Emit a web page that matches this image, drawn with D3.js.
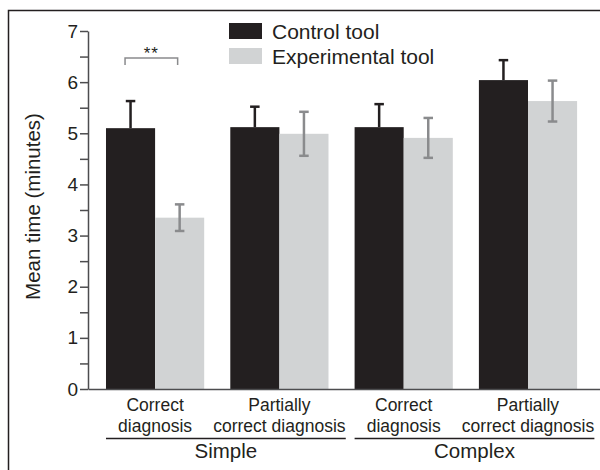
<!DOCTYPE html>
<html>
<head>
<meta charset="utf-8">
<script src="https://cdn.jsdelivr.net/npm/d3@7"></script>
<style>
  body { margin: 0; background: #fff; }
  svg { display: block; font-family: "Liberation Sans", Arial, sans-serif; }
  .axis path, .axis line { stroke: #4d4d4f; stroke-width: 1.5px; }
  .axis text { fill: #231f20; }
</style>
</head>
<body>
<div id="chart"></div>
<script>
// categories (two text lines each) and the outer grouping
var categoryLines = [["Correct", "diagnosis"], ["Partially", "correct diagnosis"],
                     ["Correct", "diagnosis"], ["Partially", "correct diagnosis"]];
var categoryGroup = ["Simple", "Simple", "Complex", "Complex"];
var groups = ["Simple", "Complex"];

// series
var series = ["Control tool", "Experimental tool"];
var controlMean = [5.10, 5.12, 5.12, 6.04];
var controlErr = [0.53, 0.40, 0.45, 0.39];
var experimentalMean = [3.35, 4.99, 4.91, 5.63];
var experimentalErr = [0.26, 0.43, 0.39, 0.40];

var yTicks = [0, 1, 2, 3, 4, 5, 6, 7];
var yMinorTicks = [0.5, 1.5, 2.5, 3.5, 4.5, 5.5, 6.5];
var yTitle = "Mean time (minutes)";

var colors = {"Control tool": "#231f20", "Experimental tool": "#d1d3d4"};
var errColors = {"Control tool": "#231f20", "Experimental tool": "#8a8b8d"};

var width = 600, height = 470;
var svg = d3.select("#chart").append("svg")
    .attr("width", width)
    .attr("height", height);

// outer frame (right/bottom run off the picture)
svg.append("rect")
    .attr("x", 8.5).attr("y", 10.5)
    .attr("width", width).attr("height", height)
    .style("fill", "none")
    .style("stroke", "#231f20")
    .style("stroke-width", "1.5px");

var x0 = d3.scaleBand()
    .domain(d3.range(categoryLines.length))
    .range([88, 600])
    .paddingInner(0.21)
    .paddingOuter(0.1645)
    .align(0.44);

var x1 = d3.scaleBand()
    .domain(series)
    .range([0, x0.bandwidth()]);

var y = d3.scaleLinear()
    .domain([0, 7])
    .range([389, 31]);

// bars
var rows = d3.range(categoryLines.length).map(function(i) {
  return [
    {cat: i, s: series[0], v: controlMean[i], e: controlErr[i]},
    {cat: i, s: series[1], v: experimentalMean[i], e: experimentalErr[i]}
  ];
});

var groupSel = svg.selectAll("g.cat")
    .data(rows)
  .enter().append("g")
    .attr("class", "cat")
    .attr("transform", function(d, i) { return "translate(" + x0(i) + ",0)"; });

groupSel.selectAll("rect")
    .data(function(d) { return d; })
  .enter().append("rect")
    .attr("x", function(d) { return x1(d.s); })
    .attr("width", x1.bandwidth())
    .attr("y", function(d) { return y(d.v); })
    .attr("height", function(d) { return y(0) - y(d.v); })
    .style("fill", function(d) { return colors[d.s]; });

// error bars: control only upward, experimental both ways
var capW = 9.5;
groupSel.selectAll("g.err")
    .data(function(d) { return d; })
  .enter().append("g")
    .attr("class", "err")
    .each(function(d) {
      var g = d3.select(this);
      var cx = x1(d.s) + x1.bandwidth() / 2;
      var lo = d.s == series[0] ? d.v : d.v - d.e;
      var hi = d.v + d.e;
      g.append("line")
        .attr("x1", cx).attr("x2", cx)
        .attr("y1", y(lo)).attr("y2", y(hi));
      g.append("line")
        .attr("x1", cx - capW / 2).attr("x2", cx + capW / 2)
        .attr("y1", y(hi)).attr("y2", y(hi));
      if (d.s != series[0]) {
        g.append("line")
          .attr("x1", cx - capW / 2).attr("x2", cx + capW / 2)
          .attr("y1", y(lo)).attr("y2", y(lo));
      }
      g.selectAll("line")
        .style("stroke", errColors[d.s])
        .style("stroke-width", "2.5px");
    });

// y axis
svg.append("g")
    .attr("class", "axis")
    .attr("transform", "translate(88,0)")
    .call(d3.axisLeft(y).tickValues(yTicks).tickFormat(d3.format("d"))
      .tickSize(8).tickSizeOuter(0).tickPadding(2))
    .selectAll("text")
    .style("font-size", "19px")
    .style("font-family", "Liberation Sans, Arial, sans-serif");

svg.append("g")
    .attr("class", "axis")
    .attr("transform", "translate(88,0)")
    .call(d3.axisLeft(y).tickValues(yMinorTicks).tickSize(8).tickFormat(""))
    .select(".domain").remove();

svg.append("text")
    .attr("transform", "translate(40," + 206.5 + ") rotate(-90)")
    .style("text-anchor", "middle")
    .style("font-size", "20.5px")
    .style("fill", "#231f20")
    .text(yTitle);

// x axis
var xG = svg.append("g")
    .attr("class", "axis")
    .attr("transform", "translate(0," + y(0) + ")")
    .call(d3.axisBottom(x0).tickSize(0).tickSizeOuter(0).tickFormat(""));

var labels = svg.selectAll("text.xlab")
    .data(categoryLines)
  .enter().append("text")
    .attr("class", "xlab")
    .attr("x", function(d, i) { return x0(i) + x0.bandwidth() / 2; })
    .attr("y", y(0) + 22)
    .style("text-anchor", "middle")
    .style("font-size", "17.5px")
    .style("fill", "#231f20");

labels.selectAll("tspan")
    .data(function(d) { return d; })
  .enter().append("tspan")
    .attr("x", function() { return d3.select(this.parentNode).attr("x"); })
    .attr("dy", function(d, i) { return i == 0 ? 0 : 20.7; })
    .text(function(d) { return d; });

// group brackets below the category labels
groups.forEach(function(grp) {
  var left = Infinity, right = -Infinity;
  labels.each(function(d, i) {
    if (categoryGroup[i] != grp) return;
    var bb = this.getBBox();
    left = Math.min(left, bb.x, x0(i));
    right = Math.max(right, bb.x + bb.width, x0(i) + x0.bandwidth());
  });
  svg.append("line")
    .attr("x1", left).attr("x2", right)
    .attr("y1", y(0) + 49.5).attr("y2", y(0) + 49.5)
    .style("stroke", "#231f20")
    .style("stroke-width", "1.5px");
  svg.append("text")
    .attr("x", (left + right) / 2)
    .attr("y", y(0) + 68.5)
    .style("text-anchor", "middle")
    .style("font-size", "20.5px")
    .style("fill", "#231f20")
    .text(grp);
});

// significance bracket for the first pair
var sigL = x0(0) + x1(series[0]) + x1.bandwidth() / 2 - 5.5;
var sigR = x0(0) + x1(series[1]) + x1.bandwidth() / 2 - 2;
var sigY = y(6.47);
svg.append("path")
    .attr("d", "M" + sigL + "," + (sigY + 7) + "V" + sigY + "H" + sigR + "V" + (sigY + 7))
    .style("fill", "none")
    .style("stroke", "#8a8b8d")
    .style("stroke-width", "1.5px");
svg.append("text")
    .attr("x", (sigL + sigR) / 2)
    .attr("y", sigY + 0.5)
    .style("text-anchor", "middle")
    .style("font-size", "17px")
    .style("letter-spacing", "1px")
    .style("fill", "#231f20")
    .text("**");

// legend
var legend = svg.selectAll("g.legend")
    .data(series)
  .enter().append("g")
    .attr("class", "legend")
    .attr("transform", function(d, i) { return "translate(229," + (23 + i * 25) + ")"; });

legend.append("rect")
    .attr("width", 33)
    .attr("height", 16)
    .style("fill", function(d) { return colors[d]; });

legend.append("text")
    .attr("x", 43)
    .attr("y", 16)
    .style("font-size", "21px")
    .style("fill", "#231f20")
    .text(function(d) { return d; });
</script>
</body>
</html>
